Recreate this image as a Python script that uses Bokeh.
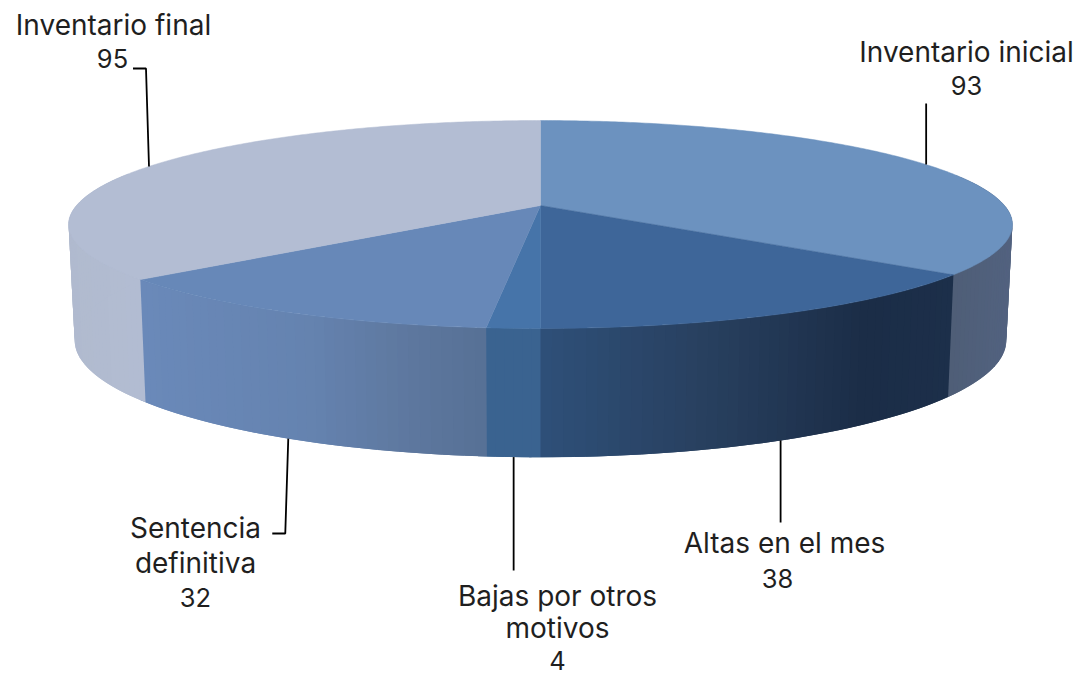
import math
from bokeh.plotting import figure
from bokeh.models import Range1d
from bokeh.core.properties import value
from bokeh.embed import file_html
from bokeh.resources import INLINE

# ---- data
categories = ["Inventario inicial", "Altas en el mes", "Bajas por otros motivos", "Sentencia definitiva", "Inventario final"]
values = [93, 38, 4, 32, 95]
label_lines = [["Inventario inicial"], ["Altas en el mes"], ["Bajas por otros", "motivos"], ["Sentencia", "definitiva"], ["Inventario final"]]

# ---- styles / layout
top_colors = ["#6c92bf", "#3e6699", "#4674a9", "#6788b8", "#b3bdd3"]
wall_stops = [
    [(940, "#4e5d75"), (1015, "#526280")],
    [(540, "#2e4f78"), (700, "#28405f"), (860, "#1b2d47"), (955, "#1c2f4a")],
    [(480, "#3a6390"), (545, "#3a6390")],
    [(140, "#6a89b9"), (300, "#6583b0"), (400, "#5e789f"), (490, "#566f94")],
    [(60, "#b0bace"), (150, "#b3bdd3")],
]
# centre x, centre y of the first line, line pitch
label_pos = [(966, 51, 34), (784, 542, 36), (557, 595, 32.5), (195, 527, 35), (113, 24, 34)]
value_x = [966, 777, 557, 195, 112]
FONT = "Inter"
FS_LABEL = "28px"
FS_VALUE = "25.5px"
K = 0.1827

def top(t):
    u, v = math.sin(t), math.cos(t)
    w = 1 + K * v
    return 540 + 464 * u / w, 205 - 100.5 * v / w

def bot(t):
    u, v = math.sin(t), math.cos(t)
    w = 1 + K * v
    return 540 + 458 * u / w, 318.5 - 113 * v / w

def hex2rgb(h):
    return [int(h[i:i + 2], 16) for i in (1, 3, 5)]

def wall_color(stops, x):
    if x <= stops[0][0]:
        return stops[0][1]
    for (x0, c0), (x1, c1) in zip(stops, stops[1:]):
        if x <= x1:
            f = (x - x0) / (x1 - x0)
            a, b = hex2rgb(c0), hex2rgb(c1)
            return "#%02x%02x%02x" % tuple(round(a[i] + (b[i] - a[i]) * f) for i in range(3))
    return stops[-1][1]

p = figure(width=1080, height=675, x_range=Range1d(0, 1080), y_range=Range1d(675, 0),
           x_axis_location=None, y_axis_location=None, toolbar_location=None,
           output_backend="svg", min_border=0, outline_line_color=None, background_fill_color="white")
p.grid.visible = False

total = sum(values)
edges = [0]
for val in values:
    edges.append(edges[-1] + val / total * 2 * math.pi)

# side walls: strips that overlap the next one, so that no seams show
strips_x, strips_y, strips_c = [], [], []
for i, val in enumerate(values):
    a0, a1 = edges[i], edges[i + 1]
    n = max(6, int((a1 - a0) / 0.02))
    for j in range(n):
        t0 = a0 + (a1 - a0) * j / n
        t1 = a0 + (a1 - a0) * (j + 2) / n
        if math.cos(t0) > 0.3 and math.cos(t1) > 0.3:      # hidden back part
            continue
        (x0, y0), (x1, y1) = top(t0), top(t1)
        (x2, y2), (x3, y3) = bot(t1), bot(t0)
        strips_x.append([x0, x1, x2, x3])
        strips_y.append([y0, y1, y2, y3])
        strips_c.append(wall_color(wall_stops[i], (x0 + x1) / 2))
p.patches(strips_x, strips_y, fill_color=strips_c, line_color=None)

# top face
for i, val in enumerate(values):
    a0, a1 = edges[i], edges[i + 1]
    n = max(4, int((a1 - a0) / 0.01))
    pts = [top(a0 + (a1 - a0) * j / n) for j in range(n + 1)]
    xs = [540] + [q[0] for q in pts]
    ys = [205] + [q[1] for q in pts]
    p.patch(xs, ys, fill_color=top_colors[i], line_color=top_colors[i], line_width=0.5)

# leader lines
mids = [(edges[i] + edges[i + 1]) / 2 for i in range(len(values))]
def leader(xs, ys):
    p.line(xs, ys, line_color="black", line_width=1.8)
x, y = top(mids[0]); leader([x, x], [y, 103])
x, y = bot(mids[1]); leader([x - 1, x - 1], [y, 522])
x, y = bot(mids[2]); leader([x, x], [y, 570])
x, y = bot(mids[3]); leader([x, x - 3, x - 16], [y, 533, 533])
x, y = top(mids[4]); leader([x, x - 3, x - 16], [y, 68, 68])

# labels
def txt(x, y, s, fs):
    p.text([x], [y], text=[s], text_font=value(FONT), text_font_size=value(fs), text_color="#1f1f1f",
           text_align="center", text_baseline="middle")
for i, lines in enumerate(label_lines):
    lx, ly, lh = label_pos[i]
    for k, line in enumerate(lines):
        txt(lx, ly + k * lh, line, FS_LABEL)
    txt(value_x[i], ly + len(lines) * lh, str(values[i]), FS_VALUE)

open("out.html", "w").write(file_html(p, INLINE))
